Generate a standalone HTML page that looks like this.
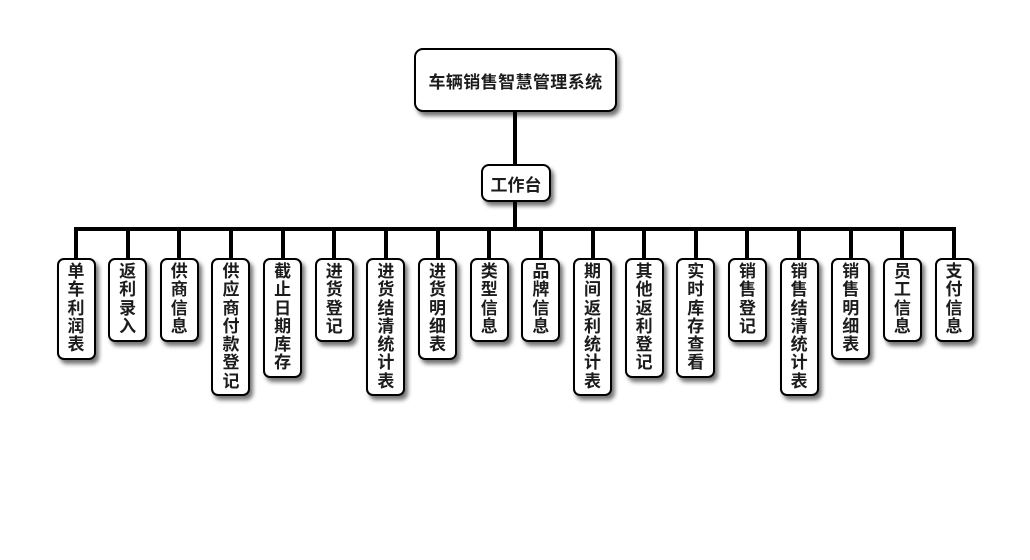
<!DOCTYPE html>
<html>
<head>
<meta charset="utf-8">
<style>
  html, body { margin:0; padding:0; background:#fff; }
  body { width:1030px; height:560px; position:relative; overflow:hidden;
         font-family:"Liberation Sans","Noto Sans CJK SC","WenQuanYi Zen Hei",sans-serif; }
  .ln { position:absolute; background:#000; }
  .box { position:absolute; box-sizing:border-box; border:2px solid #000; background:#fff;
         box-shadow:3px 4px 4px rgba(0,0,0,0.55); color:#1c1c1c; font-weight:bold;
         display:flex; align-items:center; justify-content:center; text-align:center; }
  .v { width:39px; border-radius:7px; font-size:17px; line-height:18.33px; top:257.5px; }
  .v span { display:block; width:18px; word-break:break-all; }
</style>
</head>
<body>
<!-- connectors -->
<div class="ln" style="left:513px;top:110px;width:4px;height:56px;"></div>
<div class="ln" style="left:513px;top:200px;width:4px;height:30px;"></div>
<div class="ln" style="left:74px;top:227px;width:882px;height:4px;"></div>
<div id="drops"></div>

<div class="box" style="left:414px;top:48px;width:203px;height:64px;border-radius:9px;font-size:17px;letter-spacing:0.4px;">车辆销售智慧管理系统</div>
<div class="box" style="left:481px;top:164px;width:70px;height:38px;border-radius:8px;font-size:17px;">工作台</div>

<div id="kids"></div>

<script>
var labels=["单车利润表","返利录入","供商信息","供应商付款登记","截止日期库存","进货登记","进货结清统计表","进货明细表","类型信息","品牌信息","期间返利统计表","其他返利登记","实时库存查看","销售登记","销售结清统计表","销售明细表","员工信息","支付信息"];
var drops="", kids="";
for(var i=0;i<labels.length;i++){
  var cx=76+i*51.65;
  var n=labels[i].length;
  var h=84+(n-4)*18.33;
  drops+='<div class="ln" style="left:'+(cx-2).toFixed(2)+'px;top:229px;width:4px;height:30px;"></div>';
  kids+='<div class="box v" style="left:'+(cx-19.5).toFixed(2)+'px;height:'+h.toFixed(2)+'px;"><span>'+labels[i]+'</span></div>';
}
document.getElementById("drops").outerHTML=drops;
document.getElementById("kids").outerHTML=kids;
</script>
</body>
</html>
